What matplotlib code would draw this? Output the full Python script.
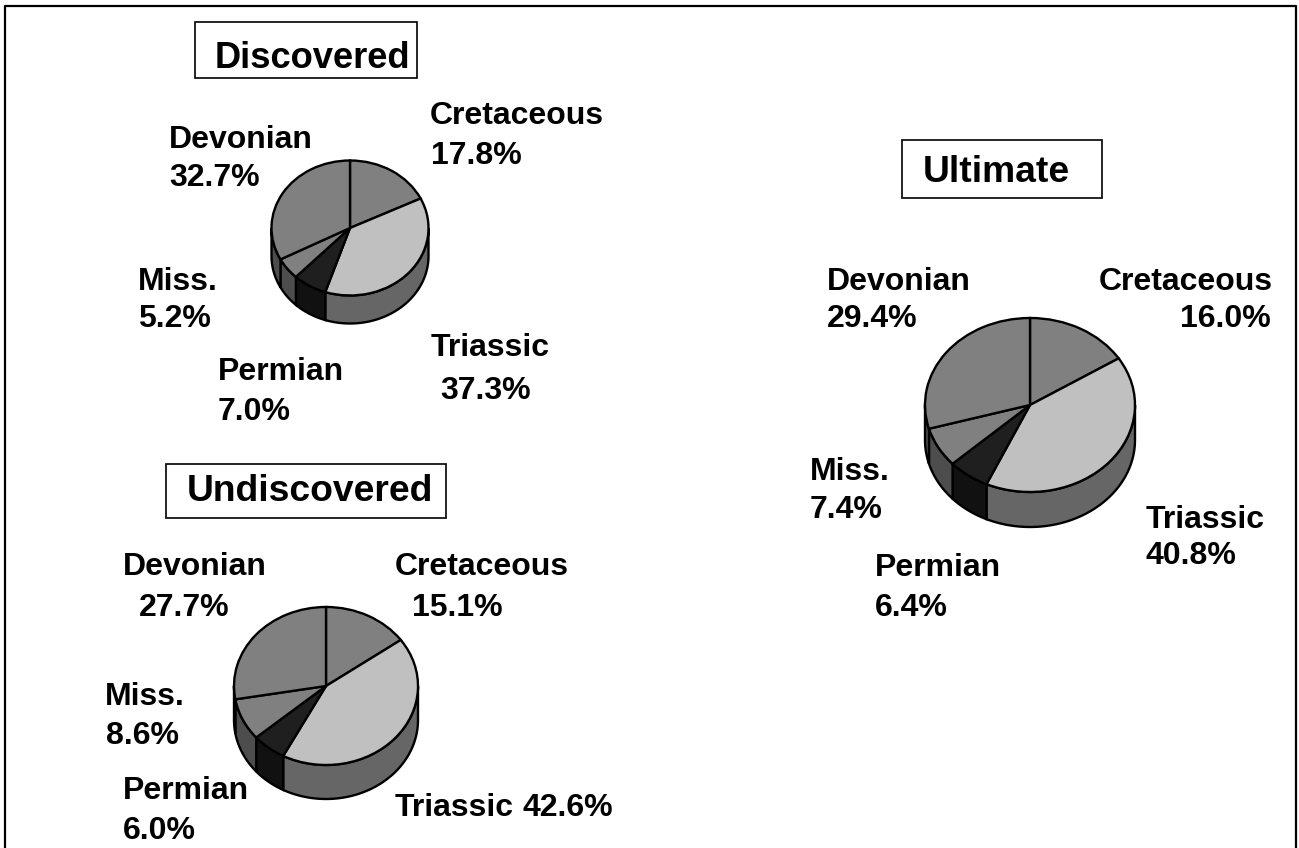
import numpy as np
import matplotlib
matplotlib.use("Agg")
import matplotlib.pyplot as plt
from matplotlib.patches import Rectangle

W, H = 1299, 848

# data
categories = ["Cretaceous", "Triassic", "Permian", "Miss.", "Devonian"]
discovered = [17.8, 37.3, 7.0, 5.2, 32.7]
undiscovered = [15.1, 42.6, 6.0, 8.6, 27.7]
ultimate = [16.0, 40.8, 6.4, 7.4, 29.4]

face_colors = ["#808080", "#c0c0c0", "#1f1f1f", "#808080", "#808080"]
side_colors = ["#666666", "#666666", "#111111", "#4d4d4d", "#4d4d4d"]

LW = 1.7
plt.rcParams["font.family"] = ["Liberation Sans", "DejaVu Sans"]


def draw_pie(fig, values, cx, cy, rx, ry, depth):
    # axes covers the top ellipse plus the side wall, pixel layout
    d = depth / ry
    ax = fig.add_axes([(cx - rx) / W, 1 - (cy + ry + depth) / H,
                       2 * rx / W, (2 * ry + depth) / H])
    ax.pie(values, colors=face_colors, startangle=90, counterclock=False,
           wedgeprops=dict(edgecolor="black", linewidth=LW, clip_on=False))
    ax.set_aspect("auto")
    ax.set_xlim(-1, 1)
    ax.set_ylim(-1 - d, 1)
    ax.patch.set_visible(False)

    # side wall, only the lower half of the rim shows
    edges = 90 - 360 * np.cumsum([0] + list(values)) / sum(values)
    for i in range(len(values)):
        start = min(edges[i], 0)
        end = max(edges[i + 1], -180)
        if start <= end:
            continue
        t = np.radians(np.linspace(start, end, 60))
        x = np.cos(t)
        y = np.sin(t)
        ax.fill(np.r_[x, x[::-1]], np.r_[y, y[::-1] - d],
                facecolor=side_colors[i], edgecolor="black", linewidth=LW,
                clip_on=False, zorder=0.5)


def draw_labels(ov, values, spots):
    for name, val, (nx, ny, px, py) in zip(categories, values, spots):
        ov.text(nx, ny, name, fontsize=23, fontweight="bold", va="baseline")
        ov.text(px, py, f"{val:.1f}%", fontsize=23, fontweight="bold", va="baseline")


def draw_title(ov, text, box, tx, ty, size=26.8):
    x0, y0, x1, y1 = box
    ov.add_patch(Rectangle((x0, y0), x1 - x0, y1 - y0, facecolor="white",
                           edgecolor="black", linewidth=1.2))
    ov.text(tx, ty, text, fontsize=size, fontweight="bold", va="baseline")


fig = plt.figure(figsize=(W / 100, H / 100), dpi=100, facecolor="white")

ov = fig.add_axes([0, 0, 1, 1])
ov.set_xlim(0, W)
ov.set_ylim(H, 0)
ov.axis("off")
ov.set_zorder(5)
ov.patch.set_visible(False)

# outer frame runs off the bottom of the picture
ov.plot([5, 5, 1296, 1296], [H + 5, 6, 6, H + 5], color="black", linewidth=1.6)

draw_pie(fig, discovered, 350, 228, 78.5, 67.5, 28)
draw_pie(fig, ultimate, 1030, 405, 105, 87, 35)
draw_pie(fig, undiscovered, 326, 686, 92, 79, 34)

draw_title(ov, "Discovered", (195, 22, 417, 78), 215, 68, size=26.2)
draw_title(ov, "Ultimate", (902, 140, 1102, 198), 923, 182)
draw_title(ov, "Undiscovered", (166, 464, 446, 518), 187, 501)

draw_labels(ov, discovered, [(430, 124, 431, 164), (431, 356, 440, 399),
                             (218, 380, 218, 420), (138, 290, 138, 327),
                             (169, 148, 169, 186)])
draw_labels(ov, ultimate, [(1099, 290, 1180, 327), (1146, 528, 1146, 564),
                           (875, 576, 875, 616), (810, 480, 810, 518),
                           (827, 290, 827, 327)])
draw_labels(ov, undiscovered, [(395, 575, 412, 616), (395, 816, 523, 816),
                               (123, 799, 123, 839), (105, 705, 106, 744),
                               (123, 575, 139, 616)])

fig.savefig("out.png", dpi=100)
